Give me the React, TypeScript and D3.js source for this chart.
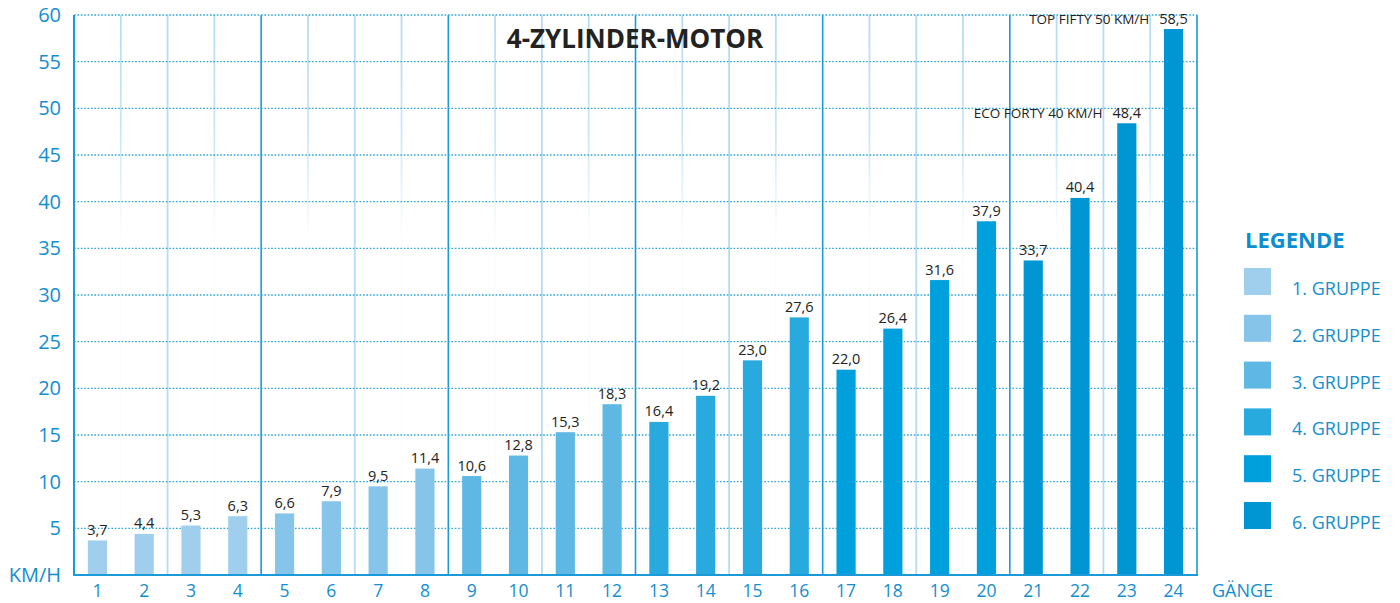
import React from "react";
import * as d3 from "d3";

const WIDTH = 1400;
const HEIGHT = 603;

// data
const gears = ["1", "2", "3", "4", "5", "6", "7", "8", "9", "10", "11", "12", "13", "14", "15", "16", "17", "18", "19", "20", "21", "22", "23", "24"];
const speeds = [3.7, 4.4, 5.3, 6.3, 6.6, 7.9, 9.5, 11.4, 10.6, 12.8, 15.3, 18.3, 16.4, 19.2, 23.0, 27.6, 22.0, 26.4, 31.6, 37.9, 33.7, 40.4, 48.4, 58.5];
const groups = [1, 1, 1, 1, 2, 2, 2, 2, 3, 3, 3, 3, 4, 4, 4, 4, 5, 5, 5, 5, 6, 6, 6, 6];
const groupLabels = ["1. GRUPPE", "2. GRUPPE", "3. GRUPPE", "4. GRUPPE", "5. GRUPPE", "6. GRUPPE"];
const groupColors = ["#9fcfec", "#86c4e9", "#5fb8e3", "#29aade", "#00a0dc", "#0096d4"];
const yTicks = [5, 10, 15, 20, 25, 30, 35, 40, 45, 50, 55, 60];
const notes = [
  { gear: "23", text: "ECO FORTY 40 KM/H" },
  { gear: "24", text: "TOP FIFTY 50 KM/H" },
];

const margin = { top: 15, right: 203, bottom: 28, left: 74 };
const FONT = "'Open Sans', 'Noto Sans', sans-serif";
const AXIS_BLUE = "#1a9ad8";
const TEXT_BLUE = "#138ecf";

const fmt = (v: number) => d3.format(".1f")(v).replace(".", ",");

export default function App() {
  const x = d3
    .scaleBand()
    .domain(gears)
    .range([margin.left, WIDTH - margin.right])
    .padding(0);
  const y = d3
    .scaleLinear()
    .domain([0, 60])
    .range([HEIGHT - margin.bottom, margin.top]);
  const color = d3.scaleOrdinal<number, string>().domain([1, 2, 3, 4, 5, 6]).range(groupColors);

  const bw = x.bandwidth();
  const barW = bw * 0.41;
  const x0 = margin.left;
  const x1 = WIDTH - margin.right;
  const yBottom = y(0);
  const yTop = y(60);

  // vertical grid: boundaries between gears
  const boundaries = d3.range(1, gears.length + 1).map((i) => ({
    i,
    pos: x0 + i * bw,
  }));

  return (
    <svg
      width={WIDTH}
      height={HEIGHT}
      style={{ position: "absolute", left: 0, top: 0, display: "block", background: "#fff" }}
      fontFamily={FONT}
    >
      <defs>
        <linearGradient id="fade" gradientUnits="userSpaceOnUse" x1="0" y1={yTop} x2="0" y2={y(37)}>
          <stop offset="0" stopColor="#b5dcf3" stopOpacity="1" />
          <stop offset="0.55" stopColor="#b5dcf3" stopOpacity="0.7" />
          <stop offset="1" stopColor="#b5dcf3" stopOpacity="0.06" />
        </linearGradient>
      </defs>

      {/* vertical grid lines */}
      {boundaries.map((b) => {
        if (b.i % 4 === 0) {
          return (
            <line key={b.i} x1={b.pos} x2={b.pos} y1={yTop} y2={yBottom} stroke={AXIS_BLUE} strokeWidth={1.6} />
          );
        }
        if (b.i % 2 === 0) {
          return (
            <line key={b.i} x1={b.pos} x2={b.pos} y1={yTop} y2={yBottom} stroke="#b5dcf3" strokeWidth={1.8} />
          );
        }
        return (
          <line key={b.i} x1={b.pos} x2={b.pos} y1={yTop} y2={yBottom} stroke="url(#fade)" strokeWidth={1.8} />
        );
      })}

      {/* horizontal dotted grid */}
      {yTicks.map((t) => (
        <line
          key={t}
          x1={x0}
          x2={x1}
          y1={y(t)}
          y2={y(t)}
          stroke="#2aa6df"
          strokeWidth={1.4}
          strokeDasharray="1.6,1.8"
        />
      ))}

      {/* bars */}
      {gears.map((g, i) => (
        <rect
          key={g}
          x={(x(g) as number) + (bw - barW) / 2}
          y={y(speeds[i])}
          width={barW}
          height={yBottom - y(speeds[i])}
          fill={color(groups[i])}
        />
      ))}

      {/* value labels */}
      {gears.map((g, i) => (
        <text
          key={g}
          x={(x(g) as number) + bw / 2}
          y={y(speeds[i]) - 5.5}
          textAnchor="middle"
          fontSize={14.5}
          fill="#222"
        >
          {fmt(speeds[i])}
        </text>
      ))}

      {/* notes */}
      {notes.map((n) => {
        const i = gears.indexOf(n.gear);
        return (
          <text
            key={n.gear}
            x={(x(n.gear) as number) - 1}
            y={y(speeds[i]) - 5.5}
            textAnchor="end"
            fontSize={13.5}
            fill="#222"
          >
            {n.text}
          </text>
        );
      })}

      {/* axes */}
      <line x1={x0} x2={x0} y1={yTop} y2={yBottom + 1} stroke={AXIS_BLUE} strokeWidth={2} />
      <line x1={x0 - 1} x2={x1 + 1} y1={yBottom} y2={yBottom} stroke={AXIS_BLUE} strokeWidth={2} />

      {yTicks.map((t) => (
        <text key={t} x={61} y={y(t) + 7} textAnchor="end" fontSize={20} fill={TEXT_BLUE}>
          {t}
        </text>
      ))}
      <text x={61} y={582} textAnchor="end" fontSize={20} fill={TEXT_BLUE}>
        KM/H
      </text>

      {gears.map((g) => (
        <text key={g} x={(x(g) as number) + bw / 2} y={597} textAnchor="middle" fontSize={17.5} fill={TEXT_BLUE}>
          {g}
        </text>
      ))}
      <text x={1212} y={597} fontSize={18} fill={TEXT_BLUE}>
        GÄNGE
      </text>

      {/* title */}
      <text x={635} y={48} textAnchor="middle" fontSize={26} fontWeight="bold" fill="#222">
        4-ZYLINDER-MOTOR
      </text>

      {/* legend */}
      <text x={1245} y={248} fontSize={22} fontWeight="bold" fill="#0a8ed0">
        LEGENDE
      </text>
      {groupLabels.map((l, i) => (
        <g key={l} transform={`translate(1244, ${268 + i * 46.8})`}>
          <rect width={27} height={27} fill={groupColors[i]} />
          <text x={48} y={27} fontSize={18} fill={TEXT_BLUE}>
            {l}
          </text>
        </g>
      ))}
    </svg>
  );
}
